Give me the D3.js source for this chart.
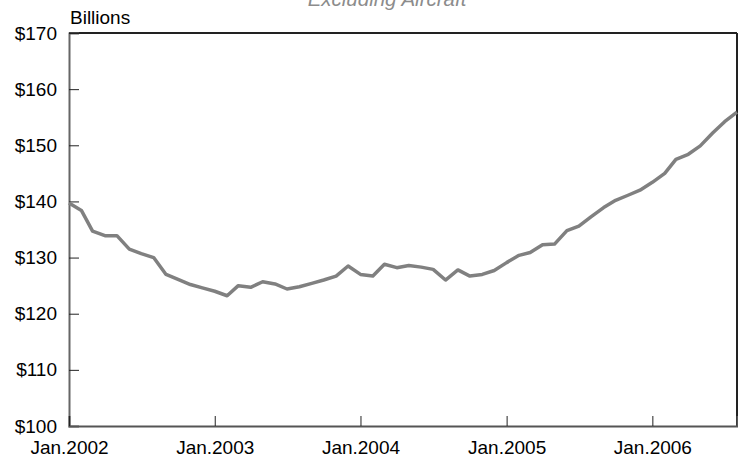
<!DOCTYPE html>
<html>
<head>
<meta charset="utf-8">
<script src="https://cdn.jsdelivr.net/npm/d3@7"></script>
<style>
  body { margin: 0; background: #fff; }
  text { font-family: "Liberation Sans", Arial, sans-serif; }
</style>
</head>
<body>
<div id="container"></div>
<script>
var WIDTH = 738;
var HEIGHT = 460;
var MARGIN = { TOP: 33, BOTTOM: 34, LEFT: 69, RIGHT: 1 };

var width = WIDTH - MARGIN.LEFT - MARGIN.RIGHT;
var height = HEIGHT - MARGIN.TOP - MARGIN.BOTTOM;

// monthly values, Jan.2002 .. Aug.2006 (billions of dollars)
const START = new Date(2002, 0, 1);
const values = [
  139.7, 138.4, 134.7, 133.9, 133.9, 131.5, 130.7, 130.0, 127.0, 126.1, 125.2, 124.6,
  124.0, 123.2, 125.0, 124.7, 125.7, 125.3, 124.4, 124.8, 125.4, 126.0, 126.7, 128.5,
  127.0, 126.7, 128.8, 128.2, 128.6, 128.3, 127.9, 126.0, 127.8, 126.7, 127.0, 127.7,
  129.1, 130.4, 130.9, 132.3, 132.4, 134.8, 135.6, 137.3, 138.9, 140.2, 141.1, 142.0,
  143.4, 145.0, 147.5, 148.4, 149.9, 152.2, 154.2, 155.9
];
const yTicks = [100, 110, 120, 130, 140, 150, 160, 170];
const xTickYears = [2002, 2003, 2004, 2005, 2006];
const title = 'Excluding Aircraft';
const unitLabel = 'Billions';

const data = values.map((v, i) => ({ date: new Date(2002, i, 1), value: v }));

const svg = d3.select('#container')
  .append('svg')
    .attr('width', WIDTH)
    .attr('height', HEIGHT);

const container = svg.append('g')
    .attr('transform', `translate(${MARGIN.LEFT}, ${MARGIN.TOP})`);

const x = d3.scaleTime()
  .domain([START, data[data.length - 1].date])
  .range([0, width]);

const y = d3.scaleLinear()
  .domain([100, 170])
  .range([height, 0]);

// title, cut off at the top like the source
svg.append('text')
  .attr('x', 387)
  .attr('y', 6)
  .attr('text-anchor', 'middle')
  .style('font-size', '20.5px')
  .style('font-style', 'italic')
  .attr('fill', '#8c8c8c')
  .text(title);

svg.append('text')
  .attr('x', 70)
  .attr('y', 24)
  .style('font-size', '19px')
  .attr('fill', '#000')
  .text(unitLabel);

// top and right frame
container.append('line')
  .attr('x1', 0).attr('x2', width)
  .attr('y1', 0).attr('y2', 0)
  .attr('stroke', '#222').attr('stroke-width', 2);
container.append('line')
  .attr('x1', width).attr('x2', width)
  .attr('y1', 0).attr('y2', height)
  .attr('stroke', '#222').attr('stroke-width', 2);

// y axis, ticks point inward
const yAxis = container.append('g')
  .call(d3.axisLeft(y)
    .tickValues(yTicks)
    .tickSize(-10)
    .tickPadding(12)
    .tickFormat(d => '$' + d));
yAxis.select('.domain').attr('stroke', '#666').attr('stroke-width', 2);
yAxis.selectAll('.tick line').attr('stroke', '#222');
yAxis.selectAll('.tick text')
  .style('font-size', '19px')
  .style('font-family', '"Liberation Sans", Arial, sans-serif')
  .attr('fill', '#000');

// x axis, ticks point inward
const xAxis = container.append('g')
  .attr('transform', `translate(0, ${height})`)
  .call(d3.axisBottom(x)
    .tickValues(xTickYears.map(yr => new Date(yr, 0, 1)))
    .tickSize(-10)
    .tickPadding(15)
    .tickFormat(d => 'Jan.' + d.getFullYear()));
xAxis.select('.domain').attr('stroke', '#555').attr('stroke-width', 2);
xAxis.selectAll('.tick line').attr('stroke', '#222');
xAxis.selectAll('.tick text')
  .style('font-size', '19px')
  .style('font-family', '"Liberation Sans", Arial, sans-serif')
  .attr('fill', '#000');

const line = d3.line()
  .x(d => x(d.date))
  .y(d => y(d.value));

container.append('path')
  .datum(data)
  .attr('fill', 'none')
  .attr('stroke', '#808080')
  .attr('stroke-width', 3.5)
  .attr('stroke-linejoin', 'round')
  .attr('d', line);
</script>
</body>
</html>
